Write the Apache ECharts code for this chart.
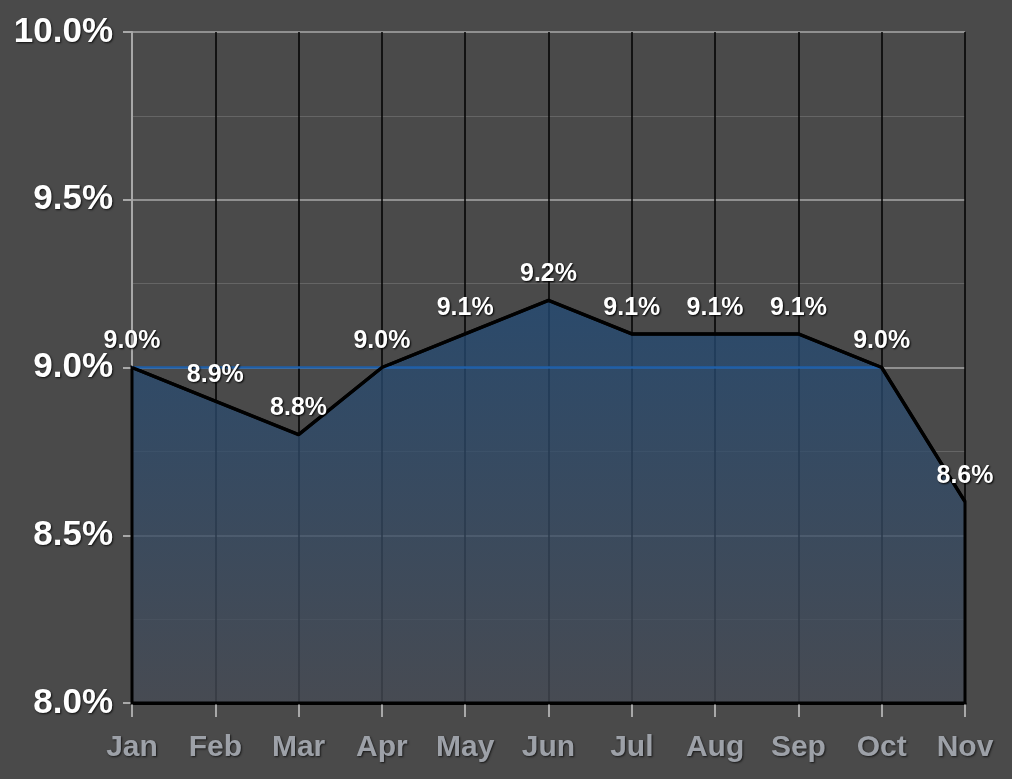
<!DOCTYPE html>
<html>
<head>
<meta charset="utf-8">
<script src="https://cdn.jsdelivr.net/npm/echarts@6/dist/echarts.min.js"></script>
<style>
html,body{margin:0;padding:0;background:#4a4a4a;}
#chart{width:1012px;height:779px;}
</style>
</head>
<body>
<div id="chart"></div>
<script>
const months = ['Jan','Feb','Mar','Apr','May','Jun','Jul','Aug','Sep','Oct','Nov'];
const rates = [9.0, 8.9, 8.8, 9.0, 9.1, 9.2, 9.1, 9.1, 9.1, 9.0, 8.6];
const referenceLine = [9.0, 9.0, 9.0, 9.0, 9.0, 9.0, 9.0, 9.0, 9.0, 9.0, null];
const yMin = 8.0, yMax = 10.0, yStep = 0.5;

const FONT = "'Liberation Sans', Arial, sans-serif";
const chart = echarts.init(document.getElementById('chart'));

function areaRender(params, api) {
  if (params.dataIndex !== 0) return;
  const pts = [];
  for (let i = 0; i < rates.length; i++) pts.push(api.coord([i, rates[i]]));
  pts.push(api.coord([rates.length - 1, yMin]));
  pts.push(api.coord([0, yMin]));
  return {
    type: 'polygon',
    shape: { points: pts },
    style: {
      fill: new echarts.graphic.LinearGradient(0, 0, 0, 1, [
        { offset: 0, color: 'rgba(33,74,118,0.76)' },
        { offset: 1, color: 'rgba(70,75,85,0.76)' }
      ]),
      stroke: '#000',
      lineWidth: 3,
      lineJoin: 'miter'
    }
  };
}

chart.setOption({
  backgroundColor: '#4a4a4a',
  animation: false,
  grid: { left: 132, right: 47, top: 32, bottom: 76, containLabel: false },
  xAxis: {
    type: 'category',
    data: months,
    boundaryGap: false,
    axisLine: { show: true, lineStyle: { color: '#000', width: 3 } },
    axisTick: { show: true, interval: 0, length: 14, lineStyle: { color: '#a8a8a8', width: 2 } },
    axisLabel: {
      interval: 0,
      margin: 30,
      color: '#9da1a8',
      fontFamily: FONT,
      fontWeight: 'bold',
      fontSize: 30,
      textShadowColor: '#1a1a1a',
      textShadowBlur: 2,
      textShadowOffsetX: 1,
      textShadowOffsetY: 1
    },
    splitLine: { show: true, interval: 0, lineStyle: { color: '#000', width: 1.5 } }
  },
  yAxis: {
    type: 'value',
    min: yMin,
    max: yMax,
    interval: yStep,
    axisLine: { show: true, lineStyle: { color: '#a8a8a8', width: 2 } },
    axisTick: { show: true, length: 9, lineStyle: { color: '#a8a8a8', width: 2 } },
    axisLabel: {
      margin: 19,
      color: '#ffffff',
      fontFamily: FONT,
      fontWeight: 'bold',
      fontSize: 35,
      formatter: v => v.toFixed(1) + '%',
      textShadowColor: '#111',
      textShadowBlur: 2,
      textShadowOffsetX: 1,
      textShadowOffsetY: 1
    },
    splitLine: { show: true, lineStyle: { color: '#a9a9a9', width: 1.5 } },
    minorTick: { show: false, splitNumber: 2 },
    minorSplitLine: { show: true, lineStyle: { color: '#656565', width: 1.2 } }
  },
  series: [
    {
      type: 'custom',
      renderItem: areaRender,
      data: rates.map((v, i) => [i, v]),
      z: 2,
      silent: true
    },
    {
      type: 'line',
      data: referenceLine,
      symbol: 'none',
      lineStyle: { color: '#1f5fa8', width: 2.5 },
      z: 3,
      silent: true
    },
    {
      type: 'line',
      data: rates,
      symbol: 'circle',
      symbolSize: 1,
      showSymbol: true,
      itemStyle: { color: 'rgba(0,0,0,0)' },
      lineStyle: { color: '#000', width: 3.5 },
      z: 4,
      label: {
        show: true,
        position: 'top',
        distance: 13,
        color: '#ffffff',
        fontFamily: FONT,
        fontWeight: 'bold',
        fontSize: 25,
        formatter: p => p.value.toFixed(1) + '%',
        textShadowColor: '#000',
        textShadowBlur: 2,
        textShadowOffsetX: 1,
        textShadowOffsetY: 1
      }
    }
  ]
});
</script>
</body>
</html>
